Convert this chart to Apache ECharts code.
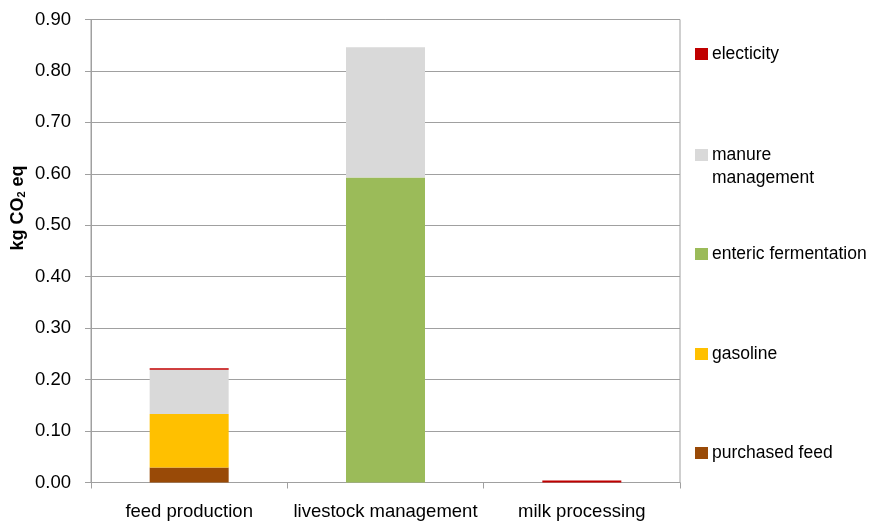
<!DOCTYPE html>
<html>
<head>
<meta charset="utf-8">
<script src="https://cdn.jsdelivr.net/npm/echarts@6/dist/echarts.min.js"></script>
<style>
html,body{margin:0;padding:0;background:#fff;}
#c{width:873px;height:523px;}
</style>
</head>
<body>
<div id="c"></div>
<script>
// ---- data ----
const categories = ['feed production', 'livestock management', 'milk processing'];
const purchasedFeed = [0.029, 0, 0];
const gasoline = [0.104, 0, 0];
const entericFermentation = [0, 0.593, 0];
const manureManagement = [0.086, 0.253, 0];
const electicity = [0.003, 0, 0.004];
const yTicks = [0, 0.1, 0.2, 0.3, 0.4, 0.5, 0.6, 0.7, 0.8, 0.9];

const seriesNames = ['purchased feed', 'gasoline', 'enteric fermentation', 'manure management', 'electicity'];
const seriesData = [purchasedFeed, gasoline, entericFermentation, manureManagement, electicity];
const seriesColors = ['#994a07', '#ffc000', '#9bbb59', '#d9d9d9', '#c00000'];

const FONT = '"Liberation Sans", Arial, sans-serif';
const gridColor = '#a0a0a0';

const chart = echarts.init(document.getElementById('c'), null, {renderer: 'canvas'});

// legend: one per item, placed at the right
const legendCenters = {
  'electicity': 54,
  'manure management': 155,
  'enteric fermentation': 254,
  'gasoline': 354,
  'purchased feed': 453
};
const legends = Object.keys(legendCenters).map(function (n) {
  return {
    data: [n],
    left: 690,
    top: legendCenters[n] - 14,
    orient: 'vertical',
    itemWidth: 13,
    itemHeight: 12,
    icon: 'rect',
    selectedMode: false,
    formatter: function (name) { return name === 'manure management' ? 'manure' : name; },
    textStyle: {fontFamily: FONT, fontSize: 17.5, color: '#000', lineHeight: 18, padding: [0, 0, 0, -1]}
  };
});

const option = {
  animation: false,
  backgroundColor: '#fff',
  textStyle: {fontFamily: FONT},
  grid: {left: 91, right: 193, top: 19.5, bottom: 40.5, show: true, borderColor: gridColor, borderWidth: 1, backgroundColor: 'transparent'},
  legend: legends,
  xAxis: {
    type: 'category',
    data: categories,
    axisLine: {lineStyle: {color: gridColor, width: 1}},
    axisTick: {show: true, alignWithLabel: false, interval: 0, length: 6, lineStyle: {color: gridColor}},
    axisLabel: {fontFamily: FONT, fontSize: 18.5, color: '#000', margin: 20, interval: 0}
  },
  yAxis: {
    type: 'value',
    min: yTicks[0],
    max: yTicks[yTicks.length - 1],
    interval: 0.1,
    axisLine: {show: true, lineStyle: {color: gridColor, width: 1}},
    axisTick: {show: true, length: 6, lineStyle: {color: gridColor}},
    splitLine: {show: true, lineStyle: {color: gridColor, width: 1}},
    axisLabel: {fontFamily: FONT, fontSize: 18.5, color: '#000', margin: 20,
      formatter: function (v) { return v.toFixed(2); }}
  },
  series: seriesNames.map(function (n, i) {
    return {
      name: n,
      type: 'bar',
      stack: 'total',
      data: seriesData[i],
      barWidth: 79,
      itemStyle: {color: seriesColors[i]},
      emphasis: {disabled: true}
    };
  }),
  graphic: [
    {
      type: 'text',
      x: 18,
      y: 208,
      rotation: Math.PI / 2,
      style: {
        text: '{b|kg CO}{s|2}{b| eq}',
        align: 'center',
        verticalAlign: 'middle',
        rich: {
          b: {fontFamily: FONT, fontSize: 18, fontWeight: 'bold', fill: '#000', color: '#000'},
          s: {fontFamily: FONT, fontSize: 11, fontWeight: 'bold', fill: '#000', color: '#000', verticalAlign: 'bottom', padding: [8, 0, 0, 0]}
        }
      }
    },
    {
      type: 'text',
      left: 712,
      top: 169,
      style: {text: 'management', fontFamily: FONT, fontSize: 17.5, fill: '#000'}
    }
  ]
};
chart.setOption(option);
</script>
</body>
</html>
